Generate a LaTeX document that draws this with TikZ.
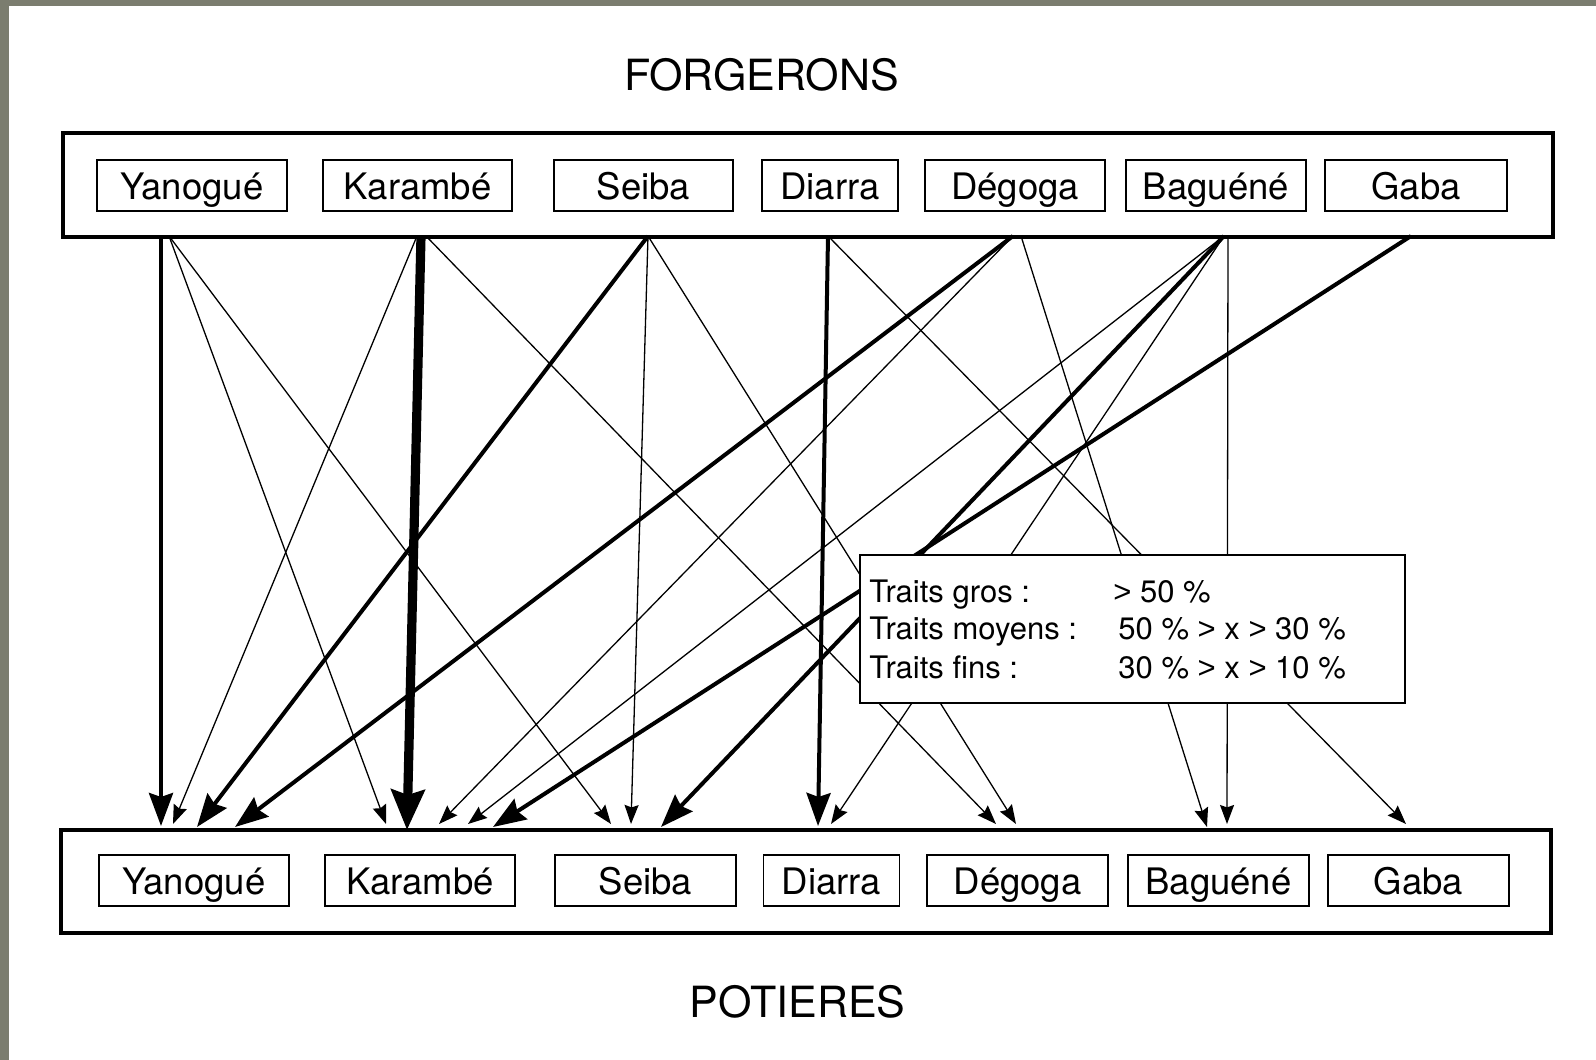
\documentclass[tikz,border=0pt]{standalone}
\usepackage{fontspec}
\setmainfont{TeX Gyre Heros}
\newfontfamily\gtfont{Liberation Sans}
\newcommand\gtsym{{\gtfont >}}
\usetikzlibrary{arrows.meta}
\definecolor{framegray}{RGB}{123,125,111}
\begin{document}
\begin{tikzpicture}[x=0.5pt,y=-0.5pt,
  outerbox/.style={draw, line width=1.6pt, minimum width=745pt, inner sep=0pt},
  pbox/.style={draw, line width=0.7pt, minimum height=25.5pt, inner sep=0pt,
    text height=14pt, text depth=0pt, font=\fontsize{18.25pt}{20pt}\selectfont},
  titletext/.style={anchor=base, inner sep=0pt, font=\fontsize{21.5pt}{24pt}\selectfont},
  legtext/.style={anchor=base west, inner sep=0pt, font=\fontsize{15.5pt}{18pt}\selectfont},
  fin/.style={line width=0.65pt, -{Stealth[length=9.5pt,width=7pt,inset=1.2pt]}},
  moyen/.style={line width=2pt, -{Stealth[length=16.5pt,width=12pt,inset=2pt]}},
  gros/.style={line width=4.6pt, -{Stealth[length=20pt,width=16.5pt,inset=2.5pt]}},
]
\useasboundingbox (0,0) rectangle (1596,1060);
\fill[white] (0,0) rectangle (1596,1060);
\fill[framegray] (0,0) rectangle (9,1060);
\fill[framegray] (0,0) rectangle (1596,6);

% titles
\node[titletext] (forg) at (761.5,90) {FORGERONS};
\node[titletext] (pot) at (797.5,1017) {POTIERES};

% outer boxes
\node[outerbox, minimum height=52pt] (top) at (808,185) {};
\node[outerbox, minimum height=51.5pt] (bot) at (806,881.5) {};

% top row (forgerons)
\node[pbox, minimum width=95pt]   (tyan) at (192,185.5)   {Yanogué};
\node[pbox, minimum width=94.5pt] (tkar) at (417.5,185.5) {Karambé};
\node[pbox, minimum width=89.5pt] (tsei) at (643.5,185.5) {Seiba};
\node[pbox, minimum width=68pt]   (tdia) at (830,185.5)   {Diarra};
\node[pbox, minimum width=90pt]   (tdeg) at (1015,185.5)  {Dégoga};
\node[pbox, minimum width=90pt]   (tbag) at (1216,185.5)  {Baguéné};
\node[pbox, minimum width=91pt]   (tgab) at (1416,185.5)  {Gaba};

% bottom row (potieres)
\node[pbox, minimum width=95pt]   (byan) at (194,880.5)    {Yanogué};
\node[pbox, minimum width=95pt]   (bkar) at (420,880.5)    {Karambé};
\node[pbox, minimum width=90.5pt] (bsei) at (645.5,880.5)  {Seiba};
\node[pbox, minimum width=68pt]   (bdia) at (831.5,880.5)  {Diarra};
\node[pbox, minimum width=90.5pt] (bdeg) at (1017.5,880.5) {Dégoga};
\node[pbox, minimum width=90.5pt] (bbag) at (1218.5,880.5) {Baguéné};
\node[pbox, minimum width=90.5pt] (bgab) at (1418.5,880.5) {Gaba};

% start points on the forgerons frame
\coordinate (yS1) at (161,236);
\coordinate (yS2) at (169,236);
\coordinate (kS)  at (421,236);
\coordinate (kSl) at (417,236);
\coordinate (kSr) at (426,236);
\coordinate (sS)  at (648,236);
\coordinate (dS)  at (828,236);
\coordinate (gS)  at (1013,236);
\coordinate (gSr) at (1021,236);
\coordinate (bS)  at (1224,236);
\coordinate (bSv) at (1228,236);
\coordinate (aS)  at (1411,236);

% arrow tips above the potieres frame
\coordinate (yE1) at (161,826);
\coordinate (yE2) at (173,824);
\coordinate (yE3) at (197,827);
\coordinate (yE4) at (235,827);
\coordinate (kE1) at (386,824);
\coordinate (kE2) at (407,830);
\coordinate (kE3) at (439,824);
\coordinate (kE4) at (468,824);
\coordinate (kE5) at (493,827);
\coordinate (sE1) at (611,824);
\coordinate (sE2) at (631,824);
\coordinate (sE3) at (661,827);
\coordinate (dE1) at (818,826);
\coordinate (dE2) at (831,824);
\coordinate (gE1) at (996,824);
\coordinate (gE2) at (1016,824);
\coordinate (bE1) at (1207,827);
\coordinate (bE2) at (1227,824);
\coordinate (aE1) at (1406,824);

% connectors
\draw[moyen] (yS1) -- (yE1);
\draw[fin]   (yS2) -- (kE1);
\draw[fin]   (yS2) -- (sE1);

\draw[gros]  (kS)  -- (kE2);
\draw[fin]   (kSl) -- (yE2);
\draw[fin]   (kSr) -- (gE1);

\draw[moyen] (sS) -- (yE3);
\draw[fin]   (sS) -- (sE2);
\draw[fin]   (sS) -- (gE2);

\draw[moyen] (dS) -- (dE1);
\draw[fin]   (dS) -- (aE1);

\draw[moyen] (gS)  -- (yE4);
\draw[fin]   (gS)  -- (kE3);
\draw[fin]   (gSr) -- (bE1);

\draw[fin]   (bS)  -- (kE4);
\draw[moyen] (bS)  -- (sE3);
\draw[fin]   (bS)  -- (dE2);
\draw[fin]   (bSv) -- (bE2);

\draw[moyen] (aS) -- (kE5);

% legend
\node[draw, fill=white, line width=0.7pt, minimum width=272.5pt, minimum height=74pt, inner sep=0pt] (legend) at (1132.5,629) {};
\node[legtext] (l1a) at (869,602)  {Traits gros :};
\node[legtext] (l1b) at (1113,602) {\gtsym\ 50 \%};
\node[legtext] (l2a) at (869,639)  {Traits moyens :};
\node[legtext] (l2b) at (1118,639) {50 \% \gtsym\ x \gtsym\ 30 \%};
\node[legtext] (l3a) at (869,678)  {Traits fins :};
\node[legtext] (l3b) at (1118,678) {30 \% \gtsym\ x \gtsym\ 10 \%};
\end{tikzpicture}
\end{document}
